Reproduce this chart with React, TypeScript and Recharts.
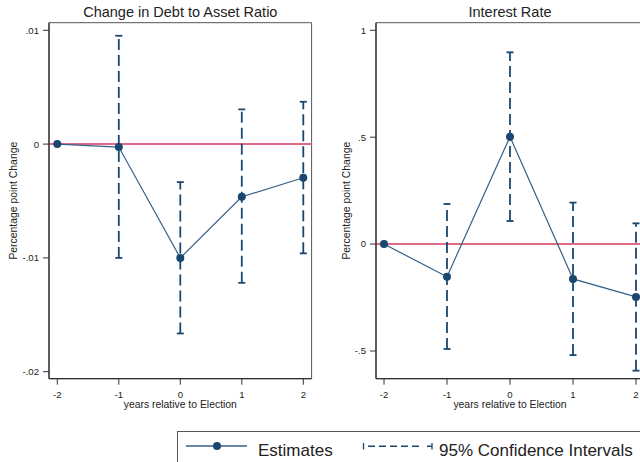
import React from 'react';
import { ComposedChart, Line, XAxis, YAxis, ReferenceLine, ReferenceArea, ErrorBar } from 'recharts';

const years = [-2, -1, 0, 1, 2];
const xTicks = [-2, -1, 0, 1, 2];

const debtEst = [0, -0.00026, -0.01, -0.00463, -0.00296];
const debtLo = [null, -0.01, -0.01664, -0.01219, -0.0096];
const debtHi = [null, 0.00952, -0.00334, 0.00305, 0.00372];
const debtTicks = [0.01, 0, -0.01, -0.02];
const debtTickLabels = ['.01', '0', '-.01', '-.02'];

const rateEst = [0, -0.1525, 0.502, -0.163, -0.247];
const rateLo = [null, -0.4906, 0.108, -0.519, -0.592];
const rateHi = [null, 0.1876, 0.897, 0.194, 0.097];
const rateTicks = [1, 0.5, 0, -0.5];
const rateTickLabels = ['1', '.5', '0', '-.5'];

const NAVY = '#1a476f';
const LINE = '#35608a';
const PINK = '#df6a86';
const INK = '#222';

function buildRows(est: number[], lo: (number | null)[], hi: (number | null)[]) {
  return years.map((x, i) => ({
    x,
    est: est[i],
    err: lo[i] == null || hi[i] == null ? null : [est[i] - (lo[i] as number), (hi[i] as number) - est[i]],
  }));
}

const debtRows = buildRows(debtEst, debtLo, debtHi);
const rateRows = buildRows(rateEst, rateLo, rateHi);

function Panel(props: {
  rows: any[];
  width: number;
  right: number;
  yWidth: number;
  xDomain: [number, number];
  yDomain: [number, number];
  yTicks: number[];
  yLabels: string[];
  labelX: number;
}) {
  const { rows, width, right, yWidth, xDomain, yDomain, yTicks, yLabels, labelX } = props;
  const fmt = (v: number) => {
    const i = yTicks.findIndex((t) => Math.abs(t - v) < 1e-9);
    return i >= 0 ? yLabels[i] : String(v);
  };
  const yLabel = (p: any) => {
    const vb = p.viewBox || { x: 0, y: 22.7, width: yWidth, height: 356 };
    const cx = vb.x + labelX;
    const cy = vb.y + vb.height / 2;
    return (
      <text
        x={cx}
        y={cy}
        transform={`rotate(-90, ${cx}, ${cy})`}
        textAnchor="middle"
        fontSize={10.4}
        fill={INK}
      >
        Percentage point Change
      </text>
    );
  };
  return (
    <ComposedChart width={width} height={420} data={rows} margin={{ top: 22.7, right, bottom: 0, left: 0 }}>
      <ReferenceArea
        x1={xDomain[0]}
        x2={xDomain[1]}
        y1={yDomain[0]}
        y2={yDomain[1]}
        fill="none"
        stroke="#555"
        strokeWidth={1}
        ifOverflow="visible"
      />
      <ReferenceLine y={0} stroke={PINK} strokeWidth={2} />
      <XAxis
        type="number"
        dataKey="x"
        domain={xDomain}
        ticks={xTicks}
        allowDataOverflow
        height={41.3}
        tickSize={6}
        tickMargin={6}
        tick={{ fontSize: 9.6, fill: INK }}
        tickLine={{ stroke: '#333' }}
        axisLine={{ stroke: '#333', strokeWidth: 1.3 }}
        label={{ value: 'years relative to Election', position: 'insideBottom', offset: 12.5, fontSize: 10.4, fill: INK }}
      />
      <YAxis
        type="number"
        domain={yDomain}
        ticks={yTicks}
        allowDataOverflow
        width={yWidth}
        tickSize={6}
        tickMargin={4}
        tickFormatter={fmt}
        tick={{ fontSize: 9.6, fill: INK }}
        tickLine={{ stroke: '#333' }}
        axisLine={{ stroke: '#333', strokeWidth: 1.3 }}
        label={{ content: yLabel }}
      />
      <Line
        type="linear"
        dataKey="est"
        stroke={LINE}
        strokeWidth={1.2}
        isAnimationActive={false}
        dot={{ r: 4, fill: NAVY, stroke: NAVY, strokeWidth: 0 }}
        activeDot={false}
      >
        <ErrorBar dataKey="err" direction="y" width={3.5} stroke={NAVY} strokeWidth={1.8} strokeDasharray="11 5" />
      </Line>
    </ComposedChart>
  );
}

export default function App() {
  return (
    <div
      style={{
        position: 'absolute',
        left: 0,
        top: 0,
        width: 640,
        height: 462,
        overflow: 'hidden',
        background: '#fff',
        fontFamily: '"Liberation Sans", Arial, sans-serif',
      }}
    >
      <div style={{ position: 'absolute', left: 0, top: 0 }}>
        <Panel
          rows={debtRows}
          width={320}
          right={8.4}
          yWidth={49}
          xDomain={[-2.135, 2.135]}
          yDomain={[-0.020615, 0.010668]}
          yTicks={debtTicks}
          yLabels={debtTickLabels}
          labelX={17}
        />
      </div>
      <div style={{ position: 'absolute', left: 320, top: 0 }}>
        <Panel
          rows={rateRows}
          width={330}
          right={6}
          yWidth={56}
          xDomain={[-2.127, 2.127]}
          yDomain={[-0.6296, 1.0355]}
          yTicks={rateTicks}
          yLabels={rateTickLabels}
          labelX={30}
        />
      </div>
      <svg width={640} height={462} style={{ position: 'absolute', left: 0, top: 0, pointerEvents: 'none' }}>
        <text x={180.3} y={17.3} textAnchor="middle" fontSize={14.5} fill={INK}>
          Change in Debt to Asset Ratio
        </text>
        <text x={510} y={17.3} textAnchor="middle" fontSize={14.5} fill={INK}>
          Interest Rate
        </text>
        <rect x={177.5} y={431.5} width={520} height={60} fill="#fff" stroke="#555" strokeWidth={1} />
        <line x1={186} y1={446} x2={247} y2={446} stroke={LINE} strokeWidth={1.3} />
        <circle cx={217} cy={446} r={4} fill={NAVY} />
        <text x={258} y={455.5} fontSize={17} fill={INK}>
          Estimates
        </text>
        <line x1={363.5} y1={443} x2={363.5} y2={449.5} stroke={NAVY} strokeWidth={1.3} />
        <line x1={364} y1={446.3} x2={432} y2={446.3} stroke={NAVY} strokeWidth={1.4} strokeDasharray="0 4 7 4 7 4 7 4 7 4 7 4" />
        <line x1={432} y1={443} x2={432} y2={449.5} stroke={NAVY} strokeWidth={1.3} />
        <text x={439} y={455.5} fontSize={17} fill={INK}>
          95% Confidence Intervals
        </text>
      </svg>
    </div>
  );
}
